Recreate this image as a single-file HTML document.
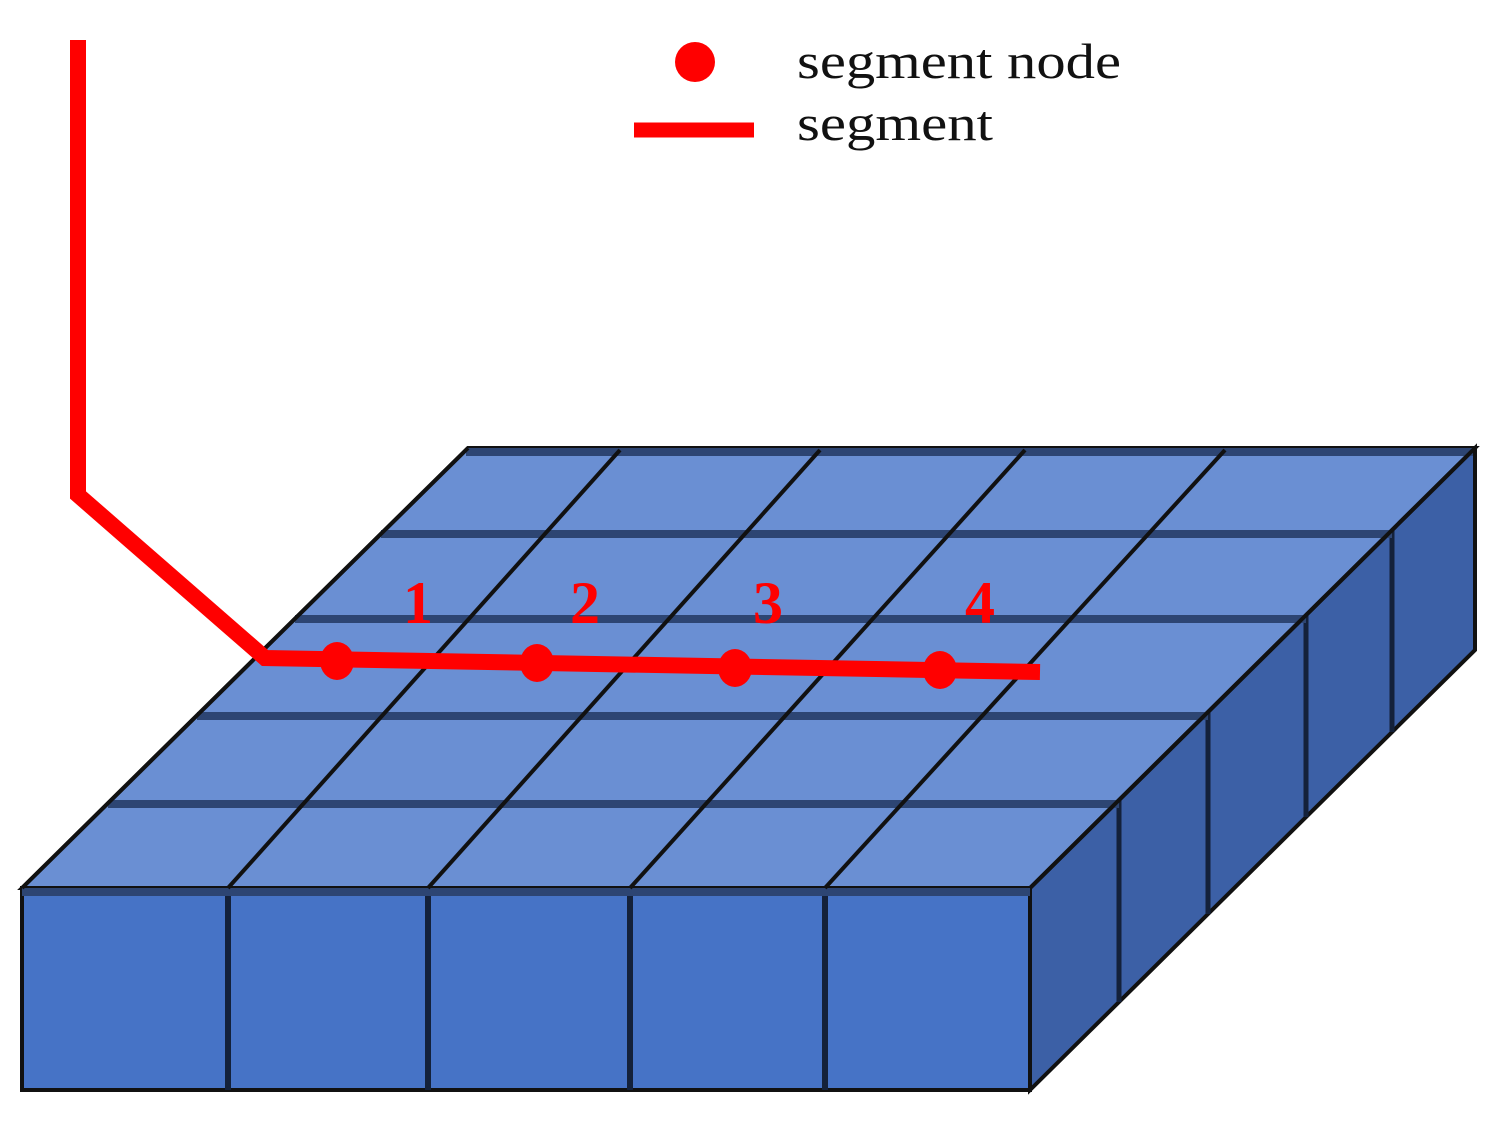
<!DOCTYPE html>
<html><head><meta charset="utf-8"><style>html,body{margin:0;padding:0;background:#fff}svg{display:block}</style></head>
<body>
<svg width="1500" height="1121" viewBox="0 0 1500 1121" xmlns="http://www.w3.org/2000/svg">
<rect width="1500" height="1121" fill="#fff"/>
<polygon points="1030,888 1475,448 1475,650 1030,1090" fill="#3c60a6" stroke="#111" stroke-width="4"/>
<g stroke="#14213a" stroke-width="5">
<line x1="1119" y1="800" x2="1119" y2="1002"/>
<line x1="1208" y1="712" x2="1208" y2="914"/>
<line x1="1306" y1="615" x2="1306" y2="817"/>
<line x1="1392" y1="530" x2="1392" y2="732"/>
</g>
<rect x="22" y="888" width="1008" height="202" fill="#4673c6" stroke="#111" stroke-width="4"/>
<g stroke="#14213a" stroke-width="6">
<line x1="228" y1="888" x2="228" y2="1090"/>
<line x1="428" y1="888" x2="428" y2="1090"/>
<line x1="630" y1="888" x2="630" y2="1090"/>
<line x1="825" y1="888" x2="825" y2="1090"/>
</g>
<polygon points="22,888 468,448 1475,448 1030,888" fill="#6a8fd3" stroke="#111" stroke-width="4"/>
<g stroke="#2d4573" stroke-width="8">
<line x1="108" y1="804" x2="1119" y2="804"/>
<line x1="197" y1="716" x2="1208" y2="716"/>
<line x1="295" y1="619" x2="1306" y2="619"/>
<line x1="381" y1="534" x2="1392" y2="534"/>
<line x1="466" y1="452" x2="1473" y2="452"/>
<line x1="22" y1="892" x2="1030" y2="892"/>
</g>
<g stroke="#111" stroke-width="4">
<line x1="228" y1="888" x2="620" y2="450"/>
<line x1="428" y1="888" x2="820" y2="450"/>
<line x1="630" y1="888" x2="1025" y2="450"/>
<line x1="825" y1="888" x2="1225" y2="450"/>
<line x1="22" y1="888" x2="468" y2="448"/>
<line x1="1030" y1="888" x2="1475" y2="448"/>
</g>
<polyline points="78,40 78,495 265,658 1040,672" fill="none" stroke="#ff0000" stroke-width="16" stroke-linejoin="miter"/>
<g fill="#ff0000">
<ellipse cx="337" cy="661" rx="17" ry="19"/>
<ellipse cx="537" cy="663" rx="17" ry="19"/>
<ellipse cx="735" cy="668" rx="17" ry="19"/>
<ellipse cx="940" cy="670" rx="17" ry="19"/>
</g>
<g fill="#ff0000" font-family="Liberation Serif, serif" font-weight="bold" font-size="60">
<text x="403" y="623">1</text>
<text x="570" y="623">2</text>
<text x="753" y="623">3</text>
<text x="965" y="623">4</text>
</g>
<circle cx="695" cy="62" r="20" fill="#ff0000"/>
<line x1="634" y1="130" x2="754" y2="130" stroke="#ff0000" stroke-width="15"/>
<g font-family="Liberation Serif, serif" font-size="50" fill="#111">
<text x="797" y="78" textLength="324" lengthAdjust="spacingAndGlyphs">segment node</text>
<text x="797" y="140" textLength="196" lengthAdjust="spacingAndGlyphs">segment</text>
</g>
</svg>
</body></html>
